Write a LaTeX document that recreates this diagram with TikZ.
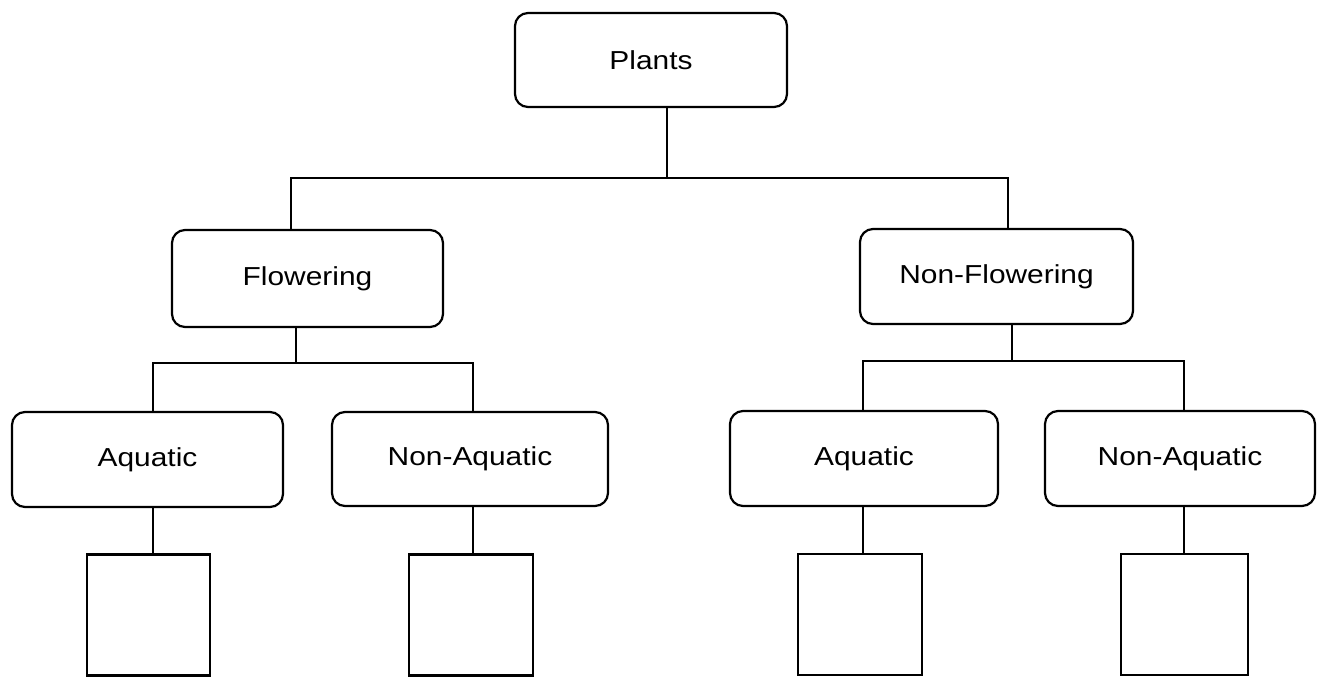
\documentclass[tikz,border=0pt]{standalone}
\usepackage{fontspec}
\setmainfont{Liberation Sans}[FakeStretch=1.15]
\begin{document}
\begin{tikzpicture}[x=1pt,y=-1pt,
  catbox/.style={draw=black,line width=2.2pt,rounded corners=13pt,inner sep=0pt,
    font=\fontsize{26}{30}\selectfont,text=black},
  emptybox/.style={draw=black,line width=2.2pt,inner sep=0pt},
  link/.style={draw=black,line width=2.2pt}]
\useasboundingbox (0,0) rectangle (1321,678);
\fill[white] (0,0) rectangle (1321,678);
% category boxes
\node[catbox,minimum width=272pt,minimum height=94pt] (plants) at (651,60) {Plants};
\node[catbox,minimum width=271pt,minimum height=97pt] (flow) at (307.5,278.5) {Flowering};
\node[catbox,minimum width=273pt,minimum height=95pt] (nonflow) at (996.5,276.5) {Non-Flowering};
\node[catbox,minimum width=271pt,minimum height=95pt] (aq1) at (147.5,459.5) {Aquatic};
\node[catbox,minimum width=276pt,minimum height=94pt] (naq1) at (470,459) {Non-Aquatic};
\node[catbox,minimum width=268pt,minimum height=95pt] (aq2) at (864,458.5) {Aquatic};
\node[catbox,minimum width=270pt,minimum height=95pt] (naq2) at (1180,458.5) {Non-Aquatic};
% empty boxes
\node[emptybox,minimum width=123pt,minimum height=121pt] (s1) at (148.5,615) {};
\node[emptybox,minimum width=124pt,minimum height=121pt] (s2) at (471,615) {};
\node[emptybox,minimum width=124pt,minimum height=121pt] (s3) at (860,614.5) {};
\node[emptybox,minimum width=127pt,minimum height=121pt] (s4) at (1184.5,614.5) {};
% junction points
\coordinate (j0) at (667,178);
\coordinate (j1) at (296,363);
\coordinate (j2) at (1012,361);
% Plants level
\draw[link] (plants.south -| j0) -- (j0);
\draw[link] (j0) -| ([xshift=-16.5pt]flow.north);
\draw[link] (j0) -| ([xshift=11.5pt]nonflow.north);
% Flowering level
\draw[link] (flow.south -| j1) -- (j1);
\draw[link] (j1) -| ([xshift=5.5pt]aq1.north);
\draw[link] (j1) -| ([xshift=3pt]naq1.north);
% Non-Flowering level
\draw[link] (nonflow.south -| j2) -- (j2);
\draw[link] (j2) -| ([xshift=-1pt]aq2.north);
\draw[link] (j2) -| ([xshift=4pt]naq2.north);
% leaves
\draw[link] ([xshift=5.5pt]aq1.south) -- ([xshift=5.5pt]aq1.south |- s1.north);
\draw[link] ([xshift=3pt]naq1.south) -- ([xshift=3pt]naq1.south |- s2.north);
\draw[link] ([xshift=-1pt]aq2.south) -- ([xshift=-1pt]aq2.south |- s3.north);
\draw[link] ([xshift=4pt]naq2.south) -- ([xshift=4pt]naq2.south |- s4.north);
\end{tikzpicture}
\end{document}
